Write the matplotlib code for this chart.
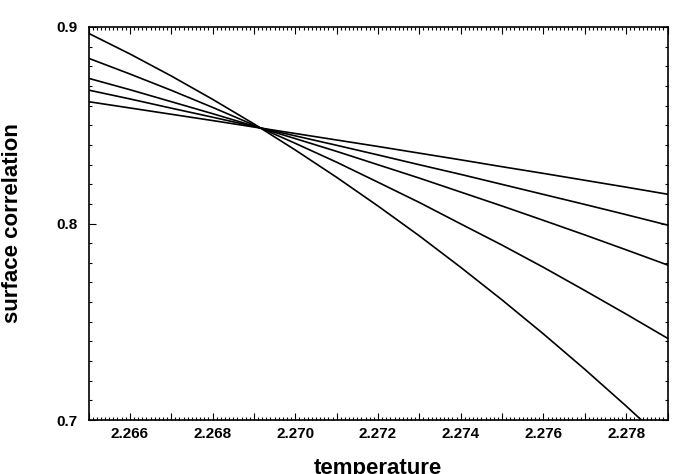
import matplotlib
matplotlib.use("Agg")
import matplotlib.pyplot as plt
from matplotlib.ticker import MultipleLocator, FuncFormatter

temperature = [2.265, 2.266, 2.267, 2.268, 2.269, 2.270, 2.271, 2.272,
               2.273, 2.274, 2.275, 2.276, 2.277, 2.278, 2.279]

curve_1 = [0.8620, 0.8588, 0.8556, 0.8524, 0.8491, 0.8458, 0.8425, 0.8392,
           0.8358, 0.8324, 0.8289, 0.8255, 0.8220, 0.8185, 0.8149]
curve_2 = [0.8679, 0.8634, 0.8587, 0.8541, 0.8494, 0.8446, 0.8398, 0.8349,
           0.8299, 0.8250, 0.8199, 0.8148, 0.8097, 0.8045, 0.7992]
curve_3 = [0.8739, 0.8681, 0.8620, 0.8559, 0.8496, 0.8432, 0.8367, 0.8299,
           0.8231, 0.8160, 0.8089, 0.8016, 0.7942, 0.7866, 0.7789]
curve_4 = [0.8841, 0.8761, 0.8678, 0.8591, 0.8501, 0.8408, 0.8312, 0.8210,
           0.8107, 0.7998, 0.7890, 0.7777, 0.7659, 0.7539, 0.7416]
curve_5 = [0.8968, 0.8863, 0.8751, 0.8632, 0.8507, 0.8374, 0.8235, 0.8089,
           0.7937, 0.7777, 0.7611, 0.7438, 0.7258, 0.7071, 0.6878]

curves = [curve_1, curve_2, curve_3, curve_4, curve_5]

x_labels = ["2.266", "2.268", "2.270", "2.272", "2.274", "2.276", "2.278"]
y_labels = ["0.7", "0.8", "0.9"]

plt.rcParams['font.family'] = ['Liberation Sans', 'DejaVu Sans']

fig = plt.figure(figsize=(6.74, 4.74), dpi=100)
ax = fig.add_axes([88.5 / 674, 1 - 420 / 474, 579 / 674, (420 - 27) / 474])

for c in curves:
    ax.plot(temperature, c, color='black', lw=1.2)

ax.set_xlim(2.265, 2.279)
ax.set_ylim(0.7, 0.9)

ax.xaxis.set_major_locator(MultipleLocator(0.001))
ax.xaxis.set_minor_locator(MultipleLocator(0.0001))
ax.yaxis.set_major_locator(MultipleLocator(0.1))
ax.yaxis.set_minor_locator(MultipleLocator(0.01))

def xfmt(v, pos):
    s = "%.3f" % v
    return s if s in x_labels else ""

def yfmt(v, pos):
    s = "%.1f" % v
    return s if s in y_labels else ""

ax.xaxis.set_major_formatter(FuncFormatter(xfmt))
ax.yaxis.set_major_formatter(FuncFormatter(yfmt))

ax.tick_params(which='both', direction='in', top=True, right=True, width=0.8)
ax.tick_params(which='major', length=5, labelsize=11)
ax.tick_params(axis='x', which='major', pad=5)
ax.tick_params(axis='y', which='major', pad=8)
ax.tick_params(which='minor', length=2.5)
for lbl in ax.get_xticklabels() + ax.get_yticklabels():
    lbl.set_fontweight('bold')

for sp in ax.spines.values():
    sp.set_linewidth(1.2)

ax.set_xlabel("temperature", fontsize=16, fontweight='bold', labelpad=12)
ax.set_ylabel("surface correlation", fontsize=16, fontweight='bold', labelpad=24)

fig.savefig("out.png", dpi=100)
